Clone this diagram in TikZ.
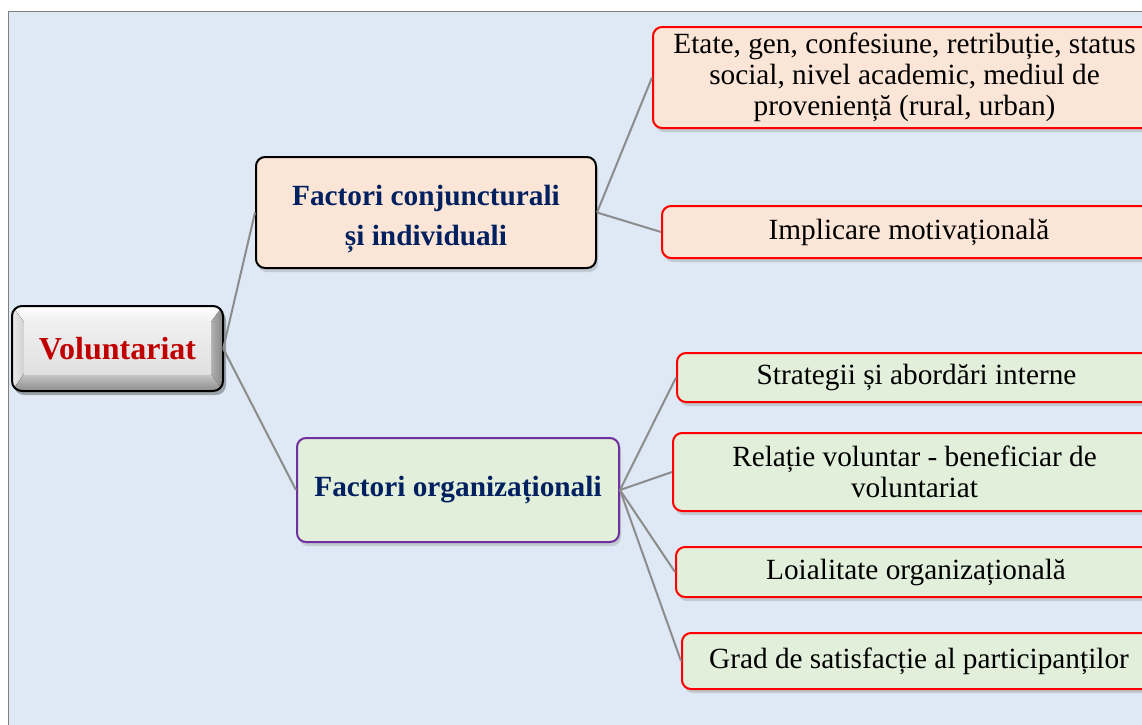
\documentclass[tikz,border=0pt]{standalone}
\usepackage{fontspec}
\setmainfont{Liberation Serif}
\usetikzlibrary{shadows}
\definecolor{panel}{HTML}{DEE9F5}
\definecolor{peach}{HTML}{FBE5D6}
\definecolor{mint}{HTML}{E2EFDA}
\definecolor{navy}{HTML}{002060}
\definecolor{darkred}{HTML}{C00000}
\definecolor{plum}{HTML}{7030A0}
\definecolor{wire}{HTML}{8C8C8C}
\tikzset{
  box/.style={draw, line width=2pt, rounded corners=9pt, inner sep=0pt, align=center,
    drop shadow={shadow xshift=2pt, shadow yshift=-4pt, opacity=.3}},
  leaf/.style={box, draw=red, font=\fontsize{29.3}{31}\selectfont},
  head/.style={box, font=\fontsize{29.3}{40}\selectfont\bfseries, text=navy},
  link/.style={draw=wire, line width=2pt},
}
\begin{document}
\begin{tikzpicture}[x=1pt,y=-1pt]
\useasboundingbox (0,0) rectangle (1142,724);
\clip (0,0) rectangle (1142,724);
% page panel
\fill[white] (0,0) rectangle (1142,724);
\fill[panel] (8,11) rectangle (1150,730);
\draw[gray, line width=1pt] (8,730) -- (8,11) -- (1150,11);

% bevelled root button
\fill[black, opacity=.3, rounded corners=10pt] (14,310) rectangle (226,395);
\begin{scope}
  \clip[rounded corners=10pt] (12,306) rectangle (223,391);
  \fill[top color=white, bottom color=black!6]  (12,306) -- (223,306) -- (211,322) -- (24,322) -- cycle;
  \fill[left color=black!8, right color=black!18] (12,306) -- (24,322) -- (24,374) -- (12,391) -- cycle;
  \fill[left color=black!30, right color=black!48] (223,306) -- (211,322) -- (211,374) -- (223,391) -- cycle;
  \fill[top color=black!22, bottom color=black!45] (12,391) -- (24,374) -- (211,374) -- (223,391) -- cycle;
  \fill[top color=black!6, bottom color=black!12] (24,322) rectangle (211,374);
\end{scope}
\draw[black, line width=2pt, rounded corners=10pt] (12,306) rectangle (223,391);
\node[inner sep=0pt, minimum width=211pt, minimum height=85pt,
      font=\fontsize{32}{36}\selectfont\bfseries, text=darkred]
  (vol) at (117.5,348.5) {Voluntariat};

% second level
\node[head, fill=peach, draw=black, minimum width=340pt, minimum height=111pt]
  (fc) at (426,212.5) {\rule{0pt}{33pt}Factori conjuncturali\\și individuali};
\node[head, fill=mint, draw=plum, minimum width=322pt, minimum height=104pt]
  (fo) at (458,490) {Factori organizaționali};

% leaves
\node[leaf, fill=peach, minimum width=503pt, minimum height=101pt]
  (e1) at (904.5,77.5) {Etate, gen, confesiune, retribuție, status\\social, nivel academic, mediul de\\proveniență (rural, urban)};
\node[leaf, fill=peach, minimum width=494pt, minimum height=52pt]
  (e2) at (909,232) {Implicare motivațională};
\node[leaf, fill=mint, minimum width=479pt, minimum height=49pt]
  (o1) at (916.5,377.5) {Strategii și abordări interne};
\node[leaf, fill=mint, minimum width=483pt, minimum height=78pt]
  (o2) at (914.5,472) {Relație voluntar - beneficiar de\\voluntariat};
\node[leaf, fill=mint, minimum width=480pt, minimum height=50pt]
  (o3) at (916,572) {Loialitate organizațională};
\node[leaf, fill=mint, minimum width=474pt, minimum height=56pt]
  (o4) at (919,661) {Grad de satisfacție al participanților};

% connectors
\draw[link] (vol.east) -- (fc.west);
\draw[link] (vol.east) -- (fo.west);
\draw[link] (fc.east) -- (e1.west);
\draw[link] (fc.east) -- (e2.west);
\foreach \n in {o1,o2,o3,o4} \draw[link] (fo.east) -- (\n.west);
\end{tikzpicture}
\end{document}
